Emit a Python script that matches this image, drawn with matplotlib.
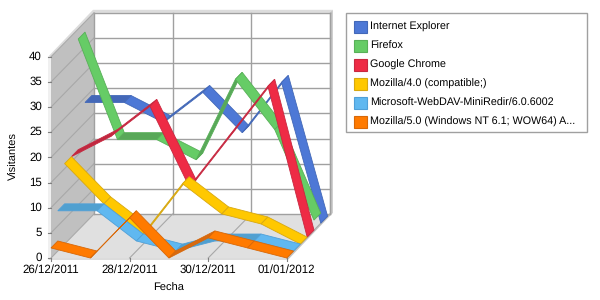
import matplotlib
matplotlib.use("Agg")
import matplotlib.pyplot as plt

plt.rcParams["font.family"] = ["Liberation Sans", "DejaVu Sans"]
plt.rcParams["text.hinting"] = "no_hinting"

# values per day
names = ["Internet Explorer", "Firefox", "Google Chrome", "Mozilla/4.0 (compatible;)",
         "Microsoft-WebDAV-MiniRedir/6.0.6002", "Mozilla/5.0 (Windows NT 6.1; WOW64) A..."]
ie = [24, 24, 20, 26, 18, 28, 0]
firefox = [38, 18, 18, 14, 30, 20, 2]
chrome = [16, 20, 26, 10, 20, 30, 0]
moz4 = [16, 8, 2, 12, 6, 4, 0]
webdav = [8, 8, 2, 0, 2, 2, 0]
moz5 = [2, 0, 8, 0, 4, 2, 0]
series = [ie, firefox, chrome, moz4, webdav, moz5]

bright = ["#4d78d6", "#66cc66", "#ee2b45", "#ffc800", "#60b8f0", "#ff7a00"]
dark = ["#4468b8", "#58a858", "#c02840", "#d8aa10", "#50a0d0", "#d86a10"]
edge = ["#4268b8", "#58b058", "#c82840", "#d8a810", "#50a0d8", "#d86808"]

date_labels = ["26/12/2011", "28/12/2011", "30/12/2011", "01/01/2012"]
y_ticks = [0, 5, 10, 15, 20, 25, 30, 35, 40]

# oblique projection, in pixels
X0, Y0 = 51.0, 258.0
DAY_W = 39.3
VAL_H = 5.03
DEPTH_X, DEPTH_Y = 43.0, 44.0
BAND_STEP = 6.8 / 43
BAND_W = 6.8 / 43


def proj(day, val, depth):
    return (X0 + day * DAY_W + depth * DEPTH_X,
            Y0 - val * VAL_H - depth * DEPTH_Y)


fig = plt.figure(figsize=(6, 3), dpi=100)
ax = fig.add_axes([0, 0, 1, 1])
ax.set_xlim(0, 600)
ax.set_ylim(300, 0)
ax.axis("off")

# walls and floor
wall = [proj(0, 0, 0), proj(0, 40, 0), proj(0, 40, 1), proj(0, 0, 1)]
floor = [proj(0, 0, 0), proj(0, 0, 1), proj(6, 0, 1), proj(6, 0, 0)]
ax.fill(*zip(*wall), fc="#c0c0c0", ec="none", zorder=1)
ax.fill(*zip(*floor), fc="#e0e0e0", ec="none", zorder=1)

# rim round the box
top = [proj(0, 40, 0), proj(0, 40, 1), proj(6, 40, 1),
       (proj(6, 40, 1)[0] + 3, proj(6, 40, 1)[1] - 3),
       (proj(0, 40, 1)[0] - 1, proj(0, 40, 1)[1] - 3),
       (proj(0, 40, 0)[0] - 3, proj(0, 40, 0)[1])]
ax.fill(*zip(*top), fc="#dcdcdc", ec="none", zorder=1)
right = [proj(6, 40, 1), (proj(6, 40, 1)[0] + 3, proj(6, 40, 1)[1] - 3),
         (proj(6, 0, 1)[0] + 3, proj(6, 0, 1)[1] - 1),
         (proj(6, 0, 0)[0] + 1, proj(6, 0, 0)[1] + 2), proj(6, 0, 0), proj(6, 0, 1)]
ax.fill(*zip(*right), fc="#c4c4c4", ec="none", zorder=1)
bottom = [proj(0, 0, 0), proj(6, 0, 0), (proj(6, 0, 0)[0] + 1, proj(6, 0, 0)[1] + 2),
          (proj(0, 0, 0)[0] - 3, proj(0, 0, 0)[1] + 2)]
ax.fill(*zip(*bottom), fc="#dcdcdc", ec="none", zorder=1)
left = [proj(0, 0, 0), proj(0, 40, 0), (proj(0, 40, 0)[0] - 3, proj(0, 40, 0)[1]),
        (proj(0, 0, 0)[0] - 3, proj(0, 0, 0)[1] + 2)]
ax.fill(*zip(*left), fc="#f0f0f0", ec="none", zorder=1)

# gridlines
GRID = "#a0a0a0"
for v in y_ticks:
    p0, p1, p2 = proj(0, v, 0), proj(0, v, 1), proj(6, v, 1)
    ax.plot([p1[0], p2[0]], [p1[1], p2[1]], color=GRID, lw=1.0, zorder=2)
    if 0 < v:
        ax.plot([p0[0], p1[0]], [p0[1], p1[1]], color="#a8a8a8", lw=0.8, zorder=2)
    ax.plot([p0[0] - 3, p0[0]], [p0[1], p0[1]], color="#808080", lw=0.8, zorder=2)
    ax.text(p0[0] - 9, p0[1], str(v), ha="right", va="center", fontsize=8.3, zorder=5)

for i, lab in enumerate(date_labels):
    d = i * 2
    p0, p1, p2 = proj(d, 0, 0), proj(d, 0, 1), proj(d, 40, 1)
    ax.plot([p1[0], p2[0]], [p1[1], p2[1]], color=GRID, lw=1.0, zorder=2)
    ax.plot([p0[0], p1[0]], [p0[1], p1[1]], color="#a8a8a8", lw=0.8, zorder=2)
    ax.plot([p0[0], p0[0]], [p0[1], p0[1] + 3], color="#808080", lw=0.8, zorder=2)
    ax.text(p0[0], p0[1] + 12, lab, ha="center", va="center", fontsize=8.3, zorder=5)

ax.text(14, 156, "Visitantes", rotation=90, ha="center", va="center", fontsize=8)
ax.text(169, 288, "Fecha", ha="center", va="center", fontsize=8)

# ribbons, back series first
z = 3
for s, vals in enumerate(series):
    d0 = (5 - s) * BAND_STEP
    d1 = d0 + BAND_W
    for i in range(len(vals) - 1):
        a = proj(i, vals[i], d0)
        b = proj(i, vals[i], d1)
        c = proj(i + 1, vals[i + 1], d1)
        e = proj(i + 1, vals[i + 1], d0)
        # falling segments face the viewer, the others show their underside
        face = bright[s] if vals[i + 1] < vals[i] else dark[s]
        ax.fill([a[0], b[0], c[0], e[0]], [a[1], b[1], c[1], e[1]],
                fc=face, ec=edge[s], lw=0.6, zorder=z)
        z += 0.01

# legend box
ax.fill([346, 587, 587, 346], [13, 13, 132, 132], fc="white", ec="#a0a0a0", lw=1.0, zorder=6)
for s, name in enumerate(names):
    yc = 27 + s * 19
    ax.fill([354, 367, 367, 354], [yc - 6, yc - 6, yc + 6, yc + 6],
            fc=bright[s], ec=edge[s], lw=0.8, zorder=7)
    ax.text(370, yc, name, ha="left", va="center", fontsize=7.75, zorder=7)

fig.savefig("out.png", dpi=100)
